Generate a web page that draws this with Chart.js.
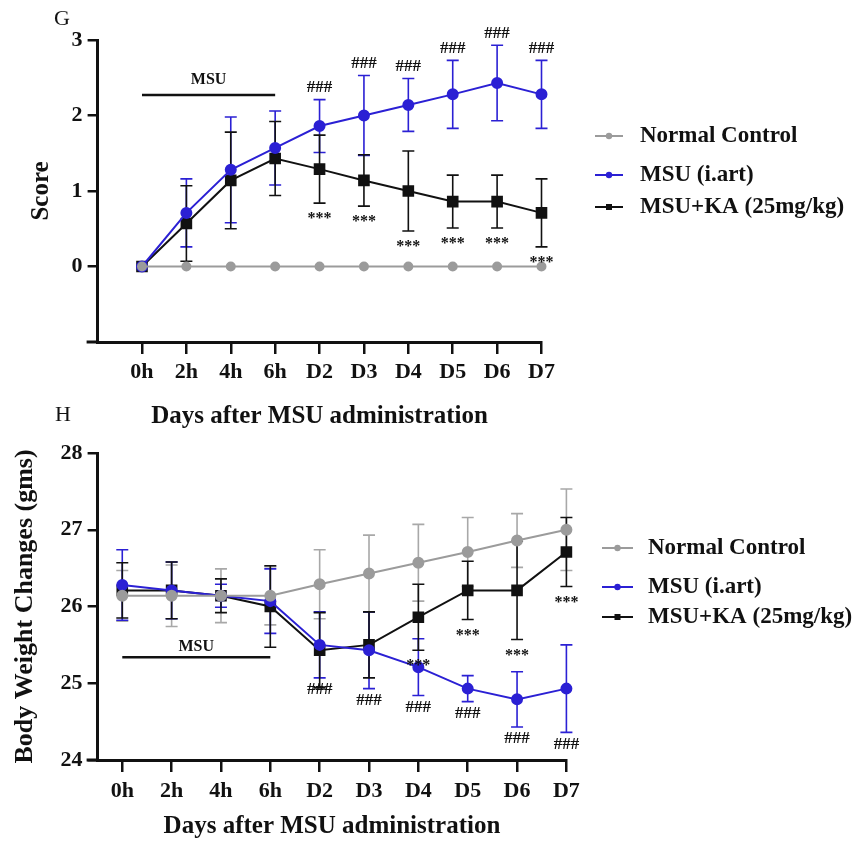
<!DOCTYPE html>
<html>
<head>
<meta charset="utf-8">
<title>Score and body weight after MSU</title>
<script src="https://cdn.jsdelivr.net/npm/chart.js@4.4.1/dist/chart.umd.min.js"></script>
<style>
    html, body { margin: 0; padding: 0; background: #fff; }
    #wrap { position: relative; width: 858px; height: 842px; overflow: hidden; }
    #wrap canvas { position: absolute; left: 0; }
    #scoreChart { top: 0; }
    #weightChart { top: 400px; }
</style>
</head>
<body>
<div id="wrap">
    <canvas id="scoreChart" width="858" height="432"></canvas>
    <canvas id="weightChart" width="858" height="442"></canvas>
</div>
<script>
// x categories and series names
const timeLabels = ['0h', '2h', '4h', '6h', 'D2', 'D3', 'D4', 'D5', 'D6', 'D7'];
const seriesNames = ['Normal Control', 'MSU (i.art)', 'MSU+KA (25mg/kg)'];

// G - score (mean and error)
const scoreNormal = [0, 0, 0, 0, 0, 0, 0, 0, 0, 0];
const scoreNormalErr = [0, 0, 0, 0, 0, 0, 0, 0, 0, 0];
const scoreMsu = [0, 0.71, 1.28, 1.57, 1.86, 2.0, 2.14, 2.28, 2.43, 2.28];
const scoreMsuErr = [0, 0.45, 0.7, 0.49, 0.35, 0.53, 0.35, 0.45, 0.5, 0.45];
const scoreKa = [0, 0.57, 1.14, 1.43, 1.29, 1.14, 1.0, 0.86, 0.86, 0.71];
const scoreKaErr = [0, 0.5, 0.64, 0.49, 0.45, 0.34, 0.53, 0.35, 0.35, 0.45];
const scoreMsuSig = ['', '', '', '', '###', '###', '###', '###', '###', '###'];
const scoreKaSig = ['', '', '', '', '***', '***', '***', '***', '***', '***'];
const scoreTicks = [0, 1, 2, 3];

// H - body weight (gms)
const weightNormal = [26.14, 26.14, 26.14, 26.14, 26.29, 26.43, 26.57, 26.71, 26.86, 27.0];
const weightNormalErr = [0.33, 0.4, 0.35, 0.38, 0.45, 0.5, 0.5, 0.45, 0.35, 0.53];
const weightMsu = [26.28, 26.21, 26.14, 26.07, 25.5, 25.43, 25.21, 24.93, 24.79, 24.93];
const weightMsuErr = [0.46, 0.37, 0.15, 0.42, 0.43, 0.5, 0.37, 0.17, 0.36, 0.57];
const weightKa = [26.21, 26.21, 26.14, 26.0, 25.43, 25.5, 25.86, 26.21, 26.21, 26.71];
const weightKaErr = [0.36, 0.37, 0.22, 0.53, 0.49, 0.43, 0.43, 0.38, 0.64, 0.45];
const weightMsuSig = ['', '', '', '', '###', '###', '###', '###', '###', '###'];
const weightKaSig = ['', '', '', '', '', '', '***', '***', '***', '***'];
const weightTicks = [24, 25, 26, 27, 28];

const GREY = '#9b9b9b';
const BLUE = '#2b20d4';
const BLACK = '#111111';
const SERIF = "'Liberation Serif', 'Times New Roman', serif";

// error bars under the lines
const errorBars = {
    id: 'errorBars',
    beforeDatasetsDraw(chart) {
        const ctx = chart.ctx;
        const y = chart.scales.y;
        chart.data.datasets.forEach((ds, i) => {
            const meta = chart.getDatasetMeta(i);
            ctx.save();
            ctx.strokeStyle = ds.errColor || ds.borderColor;
            ctx.lineWidth = 1.6;
            meta.data.forEach((pt, j) => {
                const e = ds.err[j];
                if (!e) return;
                const v = ds.data[j].y;
                const top = y.getPixelForValue(v + e);
                const bot = y.getPixelForValue(v - e);
                ctx.beginPath();
                ctx.moveTo(pt.x, top); ctx.lineTo(pt.x, bot);
                ctx.moveTo(pt.x - 6, top); ctx.lineTo(pt.x + 6, top);
                ctx.moveTo(pt.x - 6, bot); ctx.lineTo(pt.x + 6, bot);
                ctx.stroke();
            });
            ctx.restore();
        });
    }
};

// ### / *** marks, MSU period bar, panel letter, legend, axis stub
const extras = {
    id: 'extras',
    afterDraw(chart, args, opts) {
        const ctx = chart.ctx;
        const x = chart.scales.x, y = chart.scales.y;
        const area = chart.chartArea;
        ctx.save();

        // significance marks
        chart.data.datasets.forEach((ds, i) => {
            if (!ds.sig) return;
            const meta = chart.getDatasetMeta(i);
            ctx.fillStyle = '#111';
            ctx.textAlign = 'center';
            ctx.textBaseline = 'middle';
            meta.data.forEach((pt, j) => {
                const s = ds.sig[j];
                if (!s) return;
                const v = ds.data[j].y;
                let py;
                ctx.font = 'bold ' + (s === '***' ? 16 : 17) + 'px ' + SERIF;
                if (ds.sigSide === 'above') py = y.getPixelForValue(v + ds.err[j]) - 12;
                else py = y.getPixelForValue(v - ds.err[j]) + (s === '***' ? 16 : 12);
                ctx.fillText(s, pt.x, py);
            });
        });

        // MSU bar
        const m = opts.msu;
        const mx0 = x.getPixelForValue(m.from), mx1 = x.getPixelForValue(m.to);
        const my = y.getPixelForValue(m.y);
        ctx.strokeStyle = '#111';
        ctx.lineWidth = 2.5;
        ctx.beginPath();
        ctx.moveTo(mx0, my); ctx.lineTo(mx1, my);
        ctx.stroke();
        ctx.fillStyle = '#111';
        ctx.font = 'bold 16px ' + SERIF;
        ctx.textAlign = 'center';
        ctx.textBaseline = 'middle';
        ctx.fillText('MSU', (mx0 + mx1) / 2, my - m.gap);

        // x axis stub left of y axis
        ctx.strokeStyle = '#111';
        ctx.lineWidth = 3;
        ctx.beginPath();
        ctx.moveTo(area.left - 11, area.bottom); ctx.lineTo(area.left, area.bottom);
        ctx.stroke();

        // panel letter
        ctx.font = '22px ' + SERIF;
        ctx.textAlign = 'center';
        ctx.fillText(opts.letter.text, opts.letter.x, opts.letter.y);

        // legend
        const lg = opts.legend;
        chart.data.datasets.forEach((ds, i) => {
            const ly = lg.ys[i];
            ctx.strokeStyle = ds.borderColor;
            ctx.lineWidth = 2;
            ctx.beginPath();
            ctx.moveTo(lg.x0, ly); ctx.lineTo(lg.x1, ly);
            ctx.stroke();
            ctx.fillStyle = ds.borderColor;
            const cx = (lg.x0 + lg.x1) / 2;
            if (ds.pointStyle === 'rect') ctx.fillRect(cx - 3, ly - 3, 6, 6);
            else { ctx.beginPath(); ctx.arc(cx, ly, 3.2, 0, Math.PI * 2); ctx.fill(); }
            ctx.fillStyle = '#111';
            ctx.font = 'bold 23px ' + SERIF;
            ctx.textAlign = 'left';
            ctx.textBaseline = 'middle';
            ctx.fillText(seriesNames[i], lg.textX, ly);
        });
        ctx.restore();
    }
};

function series(i, values, err, color, style, radius, sig, side) {
    return {
        label: seriesNames[i],
        data: values.map((v, k) => ({ x: k, y: v })),
        err: err,
        sig: sig,
        sigSide: side,
        borderColor: color,
        backgroundColor: color,
        borderWidth: 2,
        pointStyle: style,
        pointRadius: radius,
        pointHoverRadius: radius,
        errColor: i === 0 ? '#a8a8a8' : color,
        clip: false,
        tension: 0
    };
}

function makeChart(id, c) {
    return new Chart(document.getElementById(id), {
        type: 'line',
        data: {
            datasets: [
                series(0, c.normal, c.normalErr, GREY, 'circle', c.greyR),
                series(1, c.msu, c.msuErr, BLUE, 'circle', 5, c.msuSig, c.msuSide),
                series(2, c.ka, c.kaErr, BLACK, 'rect', 6.8, c.kaSig, c.kaSide)
            ]
        },
        options: {
            responsive: false,
            animation: false,
            layout: { padding: { top: c.padTop, right: c.padRight, left: 0, bottom: 0 } },
            plugins: {
                legend: { display: false },
                tooltip: { enabled: false },
                extras: { msu: c.msuBar, letter: c.letter, legend: c.legend }
            },
            scales: {
                x: {
                    type: 'linear',
                    min: c.xMin,
                    max: 9,
                    afterBuildTicks: s => { s.ticks = timeLabels.map((t, k) => ({ value: k })); },
                    afterFit: s => { s.height = c.xHeight; },
                    ticks: {
                        autoSkip: false,
                        maxRotation: 0,
                        padding: c.xTickPad,
                        color: '#111',
                        font: { family: SERIF, size: 22, weight: 'bold' },
                        callback: v => timeLabels[v]
                    },
                    grid: { drawOnChartArea: false, drawTicks: true, tickLength: 12, color: '#111', lineWidth: 2.5 },
                    border: { display: true, color: '#111', width: 3 },
                    title: {
                        display: true,
                        text: 'Days after MSU administration',
                        color: '#111',
                        font: { family: SERIF, size: 25, weight: 'bold' },
                        padding: { top: 0, bottom: 0 }
                    }
                },
                y: {
                    min: c.yMin,
                    max: c.yMax,
                    afterBuildTicks: s => { s.ticks = c.yTicks.map(v => ({ value: v })); },
                    afterFit: s => { s.width = 97.6; },
                    ticks: {
                        padding: 5,
                        color: '#111',
                        font: { family: SERIF, size: 22, weight: 'bold' }
                    },
                    grid: { drawOnChartArea: false, drawTicks: true, tickLength: 10, color: '#111', lineWidth: 2.5 },
                    border: { display: true, color: '#111', width: 3 },
                    title: {
                        display: true,
                        text: c.yTitle,
                        color: '#111',
                        font: { family: SERIF, size: c.yTitleSize, weight: 'bold' },
                        padding: { top: c.yTitlePad, bottom: 0 }
                    }
                }
            }
        },
        plugins: [errorBars, extras]
    });
}

makeChart('scoreChart', {
    normal: scoreNormal, normalErr: scoreNormalErr,
    msu: scoreMsu, msuErr: scoreMsuErr, msuSig: scoreMsuSig, msuSide: 'above',
    ka: scoreKa, kaErr: scoreKaErr, kaSig: scoreKaSig, kaSide: 'below',
    greyR: 4,
    xMin: -1, yMin: -1, yMax: 3, yTicks: scoreTicks,
    yTitle: 'Score', yTitleSize: 25, yTitlePad: 27,
    padTop: 40, padRight: 316.5, xHeight: 90, xTickPad: 5,
    msuBar: { from: 0, to: 3, y: 2.27, gap: 15 },
    letter: { text: 'G', x: 62, y: 19 },
    legend: { x0: 595, x1: 623, textX: 640, ys: [136, 175, 207] }
});

makeChart('weightChart', {
    normal: weightNormal, normalErr: weightNormalErr,
    msu: weightMsu, msuErr: weightMsuErr, msuSig: weightMsuSig, msuSide: 'below',
    ka: weightKa, kaErr: weightKaErr, kaSig: weightKaSig, kaSide: 'below',
    greyR: 5,
    xMin: -0.5, yMin: 24, yMax: 28, yTicks: weightTicks,
    yTitle: 'Body Weight Changes (gms)', yTitleSize: 26, yTitlePad: 10,
    padTop: 53, padRight: 291.6, xHeight: 82, xTickPad: 6,
    msuBar: { from: 0, to: 3, y: 25.34, gap: 10 },
    letter: { text: 'H', x: 63, y: 15 },
    legend: { x0: 602, x1: 633, textX: 648, ys: [148, 187, 217] }
});
</script>
</body>
</html>
